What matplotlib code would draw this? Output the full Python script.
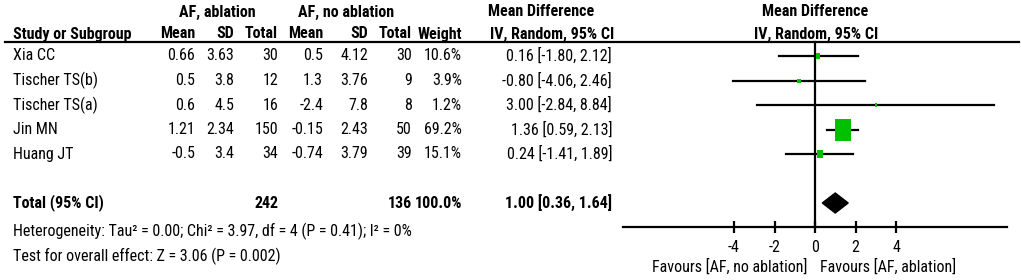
import numpy as np
import matplotlib
matplotlib.use("Agg")
import matplotlib.pyplot as plt
from matplotlib.path import Path

plt.rcParams['font.family'] = ['Roboto Condensed', 'Liberation Sans', 'DejaVu Sans']

studies = ['Xia CC', 'Tischer TS(b)', 'Tischer TS(a)', 'Jin MN', 'Huang JT']
abl_mean = ['0.66', '0.5', '0.6', '1.21', '-0.5']
abl_sd = ['3.63', '3.8', '4.5', '2.34', '3.4']
abl_n = [30, 12, 16, 150, 34]
noabl_mean = ['0.5', '1.3', '-2.4', '-0.15', '-0.74']
noabl_sd = ['4.12', '3.76', '7.8', '2.43', '3.79']
noabl_n = [30, 9, 8, 50, 39]
weight = [10.6, 3.9, 1.2, 69.2, 15.1]
md = [0.16, -0.80, 3.00, 1.36, 0.24]
lo = [-1.80, -4.06, -2.84, 0.59, -1.41]
hi = [2.12, 2.46, 8.84, 2.13, 1.89]
total_md, total_lo, total_hi = 1.00, 0.36, 1.64
ticks = [-4, -2, 0, 2, 4]

W, H = 1021, 280
fig = plt.figure(figsize=(W / 100, H / 100), dpi=100)

# rows 0..4 = studies, 6 = total
y0, dy = 56, 24.5
ylim = ((H - y0) / dy, -y0 / dy)
def row(px):
    return (px - y0) / dy

ax = fig.add_axes([0, 0, 1, 1])
ax.set_xlim(0, W)
ax.set_ylim(*ylim)
ax.axis('off')

# forest axes: zero at 815 px, 20.25 px per unit
x0, dx = 815, 20.25
axf = fig.add_axes([0, 0, 1, 1])
axf.set_xlim(-x0 / dx, (W - x0) / dx)
axf.set_ylim(*ylim)
axf.axis('off')

fs = 11.5
bold = dict(fontsize=fs, fontweight='bold')
norm = dict(fontsize=fs)

ax.text(217, row(12), 'AF, ablation', ha='center', va='center', **bold)
ax.text(346, row(12), 'AF, no ablation', ha='center', va='center', **bold)
ax.text(541, row(12), 'Mean Difference', ha='center', va='center', **bold)
ax.text(815, row(12), 'Mean Difference', ha='center', va='center', **bold)
hy = row(34)
ax.text(13, hy, 'Study or Subgroup', ha='left', va='center', **bold)
cols = [195, 234, 278, 323, 368, 412, 462]
for x, s in zip(cols, ['Mean', 'SD', 'Total', 'Mean', 'SD', 'Total', 'Weight']):
    ax.text(x, hy, s, ha='right', va='center', **bold)
ax.text(552, hy, 'IV, Random, 95% CI', ha='center', va='center', **bold)
ax.text(816, hy, 'IV, Random, 95% CI', ha='center', va='center', **bold)
ax.plot([5, 1019], [row(42), row(42)], color='black', lw=1.6)

for i, name in enumerate(studies):
    vals = [abl_mean[i], abl_sd[i], str(abl_n[i]), noabl_mean[i], noabl_sd[i],
            str(noabl_n[i]), f'{weight[i]:.1f}%']
    ax.text(13, i, name, ha='left', va='center', **norm)
    for x, s in zip(cols, vals):
        ax.text(x, i, s, ha='right', va='center', **norm)
    ax.text(612, i, f'{md[i]:.2f} [{lo[i]:.2f}, {hi[i]:.2f}]', ha='right', va='center', **norm)

ty = 6
ax.text(13, ty, 'Total (95% CI)', ha='left', va='center', **bold)
ax.text(cols[2], ty, str(sum(abl_n)), ha='right', va='center', **bold)
ax.text(cols[5], ty, str(sum(noabl_n)), ha='right', va='center', **bold)
ax.text(cols[6], ty, '100.0%', ha='right', va='center', **bold)
ax.text(612, ty, f'{total_md:.2f} [{total_lo:.2f}, {total_hi:.2f}]', ha='right', va='center', **bold)
ax.text(13, row(231), 'Heterogeneity: Tau\u00b2 = 0.00; Chi\u00b2 = 3.97, df = 4 (P = 0.41); I\u00b2 = 0%',
        ha='left', va='center', **norm)
ax.text(13, row(256), 'Test for overall effect: Z = 3.06 (P = 0.002)', ha='left', va='center', **norm)

# forest plot
ay = row(226.7)
axf.plot([-9.5, 9.5], [ay, ay], color='black', lw=1.6)
axf.plot([0, 0], [row(42), ay], color='black', lw=1.6)
axf.vlines(ticks, ay - 0.25, ay + 0.25, color='black', lw=1.6)
for t in ticks:
    axf.text(t, row(247), str(t), ha='center', va='center', fontsize=fs)
axf.text(-0.4, row(267), 'Favours [AF, no ablation]', ha='right', va='center', fontsize=fs)
axf.text(0.25, row(267), 'Favours [AF, ablation]', ha='left', va='center', fontsize=fs)

# weight boxes are a bit taller than wide
box = Path([(-0.36, -0.5), (0.36, -0.5), (0.36, 0.5), (-0.36, 0.5), (-0.36, -0.5)],
           [Path.MOVETO, Path.LINETO, Path.LINETO, Path.LINETO, Path.CLOSEPOLY])
for i in range(len(studies)):
    axf.plot([lo[i], hi[i]], [i, i], color='black', lw=1.6, zorder=2)
    h_px = 3.3 + 0.256 * weight[i]
    axf.plot(md[i], i, marker=box, ms=h_px * 0.72, color='#00c000', mec='#00c000',
             mew=0, zorder=3)

half_h = 10 / dy
axf.fill([total_lo, total_md, total_hi, total_md],
         [ty, ty - half_h, ty, ty + half_h], color='black')

fig.savefig('out.png', dpi=100)
